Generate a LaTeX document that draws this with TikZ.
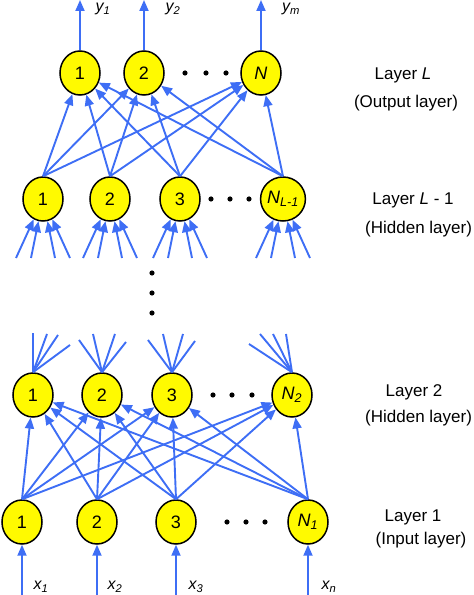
\documentclass[tikz,border=0pt]{standalone}
\usepackage{fontspec}
\setmainfont{Liberation Sans}
\usetikzlibrary{arrows.meta}
\usetikzlibrary{shapes.geometric}
\usetikzlibrary{calc}
\definecolor{linkblue}{RGB}{62,110,245}
\definecolor{cellyellow}{RGB}{255,250,0}
\tikzset{neuron/.style = {ellipse, draw=black, line width=1.5pt, fill=cellyellow,
                          minimum width=40pt, minimum height=44pt, inner sep=0pt,
                          font=\fontsize{18}{20}\selectfont},
         link/.style = {draw=linkblue, line width=1.9pt,
                        -{Triangle[length=11pt,width=9pt]}},
         fanline/.style = {draw=linkblue, line width=1.9pt},
         layertext/.style = {font=\fontsize{17}{20}\selectfont},
         iolabel/.style = {font=\fontsize{16}{18}\selectfont\itshape}}

\begin{document}
\begin{tikzpicture}[x=10pt,y=10pt]
        \useasboundingbox (0,0) rectangle (47.4,59.5);
        % layer L (output)
        \node[neuron] (o1) at (8.0,52.2) {1};
        \node[neuron] (o2) at (14.4,52.2) {2};
        \node[neuron] (oN) at (26.1,52.2) {\textit{N}};
        % layer L-1
        \node[neuron] (h1) at (4.3,39.6) {1};
        \node[neuron] (h2) at (11.0,39.6) {2};
        \node[neuron] (h3) at (18.0,39.6) {3};
        \node[neuron] (hN) at (28.3,39.6) {\textit{N\textsubscript{L-1}}};
        % layer 2
        \node[neuron] (s1) at (3.3,20.0) {1};
        \node[neuron] (s2) at (10.2,20.0) {2};
        \node[neuron] (s3) at (17.2,20.0) {3};
        \node[neuron] (sN) at (29.2,20.0) {\textit{N\textsubscript{2}}};
        % layer 1 (input)
        \node[neuron] (i1) at (2.2,7.3) {1};
        \node[neuron] (i2) at (9.7,7.3) {2};
        \node[neuron] (i3) at (17.6,7.3) {3};
        \node[neuron] (iN) at (30.8,7.3) {\textit{N\textsubscript{1}}};

        % dots
        \foreach \x in {18.5,20.6,22.6} \fill (\x,52.2) circle (2.6pt);
        \foreach \x in {21.1,23.0,24.9} \fill (\x,39.6) circle (2.6pt);
        \foreach \x in {21.3,23.2,25.2} \fill (\x,20.0) circle (2.6pt);
        \foreach \x in {22.7,24.6,26.5} \fill (\x,7.3) circle (2.6pt);
        \foreach \y in {32.2,30.2,28.2} \fill (15.2,\y) circle (2.6pt);

        % full connections
        \foreach \a in {h1,h2,h3,hN}
            \foreach \b in {o1,o2,oN}
                \draw[link] (\a.north) -- (\b);
        \foreach \a in {i1,i2,i3,iN}
            \foreach \b in {s1,s2,s3,sN}
                \draw[link] (\a.north) -- (\b);

        % cut fans into layer L-1
        \foreach \n in {h1,h2,h3,hN}
            \foreach \dx in {-2.7,-1.2,1.2,2.7}
                \draw[link] ($(\n)+(\dx,-5.9)$) -- (\n);
        % cut fans out of layer 2
        \foreach \dx/\dy in {0/6.2,1.4/6.1,2.5/6.0,3.7/5.0}
            \draw[fanline] (s1.north) -- ($(s1)+(\dx,\dy)$);
        \foreach \dx/\dy in {-2.3/5.5,-0.9/6.1,1.3/6.1,2.4/5.3}
            \draw[fanline] (s2.north) -- ($(s2)+(\dx,\dy)$);
        \foreach \dx/\dy in {-2.4/5.5,-0.9/6.1,1.1/6.1,2.3/5.4}
            \draw[fanline] (s3.north) -- ($(s3)+(\dx,\dy)$);
        \foreach \dx/\dy in {-4.3/5.1,-3.2/6.1,-1.9/6.1,-0.6/6.1}
            \draw[fanline] (sN.north) -- ($(sN)+(\dx,\dy)$);

        % outputs
        \coordinate (y1end) at (8.0,59.5);
        \coordinate (y2end) at (14.4,59.5);
        \coordinate (ymend) at (26.1,59.5);
        \draw[link] (o1) -- (y1end);
        \draw[link] (o2) -- (y2end);
        \draw[link] (oN) -- (ymend);
        \node[iolabel] (ylab1) at (10.3,58.6) {y\textsubscript{1}};
        \node[iolabel] (ylab2) at (17.3,58.6) {y\textsubscript{2}};
        \node[iolabel] (ylabm) at (29.1,58.6) {y\textsubscript{m}};

        % inputs
        \coordinate (x1start) at (2.2,0);
        \coordinate (x2start) at (9.7,0);
        \coordinate (x3start) at (17.6,0);
        \coordinate (xnstart) at (30.8,0);
        \draw[link] (x1start) -- (i1);
        \draw[link] (x2start) -- (i2);
        \draw[link] (x3start) -- (i3);
        \draw[link] (xnstart) -- (iN);
        \node[iolabel] (xlab1) at (4.1,0.8) {x\textsubscript{1}};
        \node[iolabel] (xlab2) at (11.5,0.8) {x\textsubscript{2}};
        \node[iolabel] (xlab3) at (19.6,0.8) {x\textsubscript{3}};
        \node[iolabel] (xlabn) at (32.9,0.8) {x\textsubscript{n}};

        % layer names
        \node[layertext] (nameL) at (40.3,52.0) {Layer \textit{L}};
        \node[layertext] (kindL) at (40.6,49.2) {(Output layer)};
        \node[layertext] (nameH) at (41.3,39.5) {Layer \textit{L} - 1};
        \node[layertext, anchor=west, inner sep=0pt] (kindH) at (36.5,36.6) {(Hidden layer)};
        \node[layertext] (name2) at (41.4,20.3) {Layer 2};
        \node[layertext, anchor=west, inner sep=0pt] (kind2) at (36.5,17.7) {(Hidden layer)};
        \node[layertext] (name1) at (41.3,7.8) {Layer 1};
        \node[layertext] (kind1) at (42.1,5.5) {(Input layer)};
    \end{tikzpicture}
\end{document}
